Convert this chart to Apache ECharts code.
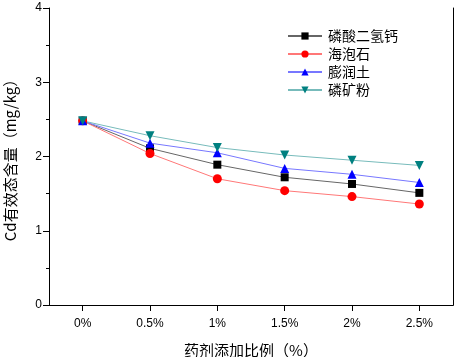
<!DOCTYPE html>
<html>
<head>
<meta charset="utf-8">
<script src="https://cdn.jsdelivr.net/npm/echarts@6/dist/echarts.min.js"></script>
<style>
  html, body { margin: 0; padding: 0; background: #fff; }
  #chart { width: 457px; height: 357px; }
</style>
</head>
<body>
<div id="chart"></div>
<script>
  var categories = ['0%', '0.5%', '1%', '1.5%', '2%', '2.5%']
  var calciumPhosphate = [2.48, 2.11, 1.89, 1.72, 1.63, 1.51]
  var sepiolite = [2.48, 2.04, 1.70, 1.54, 1.46, 1.36]
  var bentonite = [2.48, 2.18, 2.05, 1.84, 1.76, 1.65]
  var phosphateRock = [2.48, 2.28, 2.12, 2.02, 1.95, 1.88]

  var chart = echarts.init(document.getElementById('chart'))

  function makeSeries (name, data, symbol, color, lineColor, size) {
    return {
      name: name,
      type: 'line',
      data: data,
      symbol: symbol,
      symbolSize: size,
      itemStyle: { color: color },
      lineStyle: { color: lineColor, width: 1 }
    }
  }

  var frameAxis = {
    axisLine: { show: true, lineStyle: { color: '#000', width: 1 } },
    axisTick: { show: false },
    axisLabel: { show: false },
    splitLine: { show: false }
  }

  var options = {
    animation: false,
    grid: {
      left: 49,
      right: 4,
      top: 8,
      bottom: 52,
      containLabel: false,
      outerBoundsMode: 'none'
    },
    legend: {
      left: 282,
      top: 24,
      orient: 'vertical',
      itemGap: 4,
      itemWidth: 34,
      itemHeight: 9,
      textStyle: { fontFamily: 'Noto Sans CJK SC', fontSize: 14, color: '#000', padding: [0, 0, 0, 1] },
      data: ['磷酸二氢钙', '海泡石', '膨润土', '磷矿粉']
    },
    xAxis: [{
      type: 'category',
      data: categories,
      boundaryGap: true,
      name: '药剂添加比例（%）',
      nameLocation: 'middle',
      nameGap: 38,
      nameTextStyle: { fontFamily: 'Noto Sans CJK SC', fontSize: 15, color: '#000' },
      axisLine: { show: true, lineStyle: { color: '#000', width: 1 } },
      axisTick: { show: true, alignWithLabel: true, inside: false, length: 6, lineStyle: { color: '#000', width: 1 } },
      axisLabel: { fontFamily: 'Liberation Sans', fontSize: 12, color: '#000', margin: 13 }
    }, Object.assign({ type: 'category', data: categories, position: 'top' }, frameAxis)],
    yAxis: [{
      type: 'value',
      min: 0,
      max: 4,
      interval: 1,
      name: 'Cd有效态含量（mg/kg）',
      nameLocation: 'middle',
      nameGap: 31,
      nameTextStyle: { fontFamily: 'Noto Sans CJK SC', fontSize: 15, color: '#000' },
      axisLine: { show: true, lineStyle: { color: '#000', width: 1 } },
      axisTick: { show: true, inside: false, length: 6, lineStyle: { color: '#000', width: 1 } },
      minorTick: { show: true, splitNumber: 2, length: 3, lineStyle: { color: '#000', width: 1 } },
      splitLine: { show: false },
      axisLabel: { fontFamily: 'Liberation Sans', fontSize: 12, color: '#000', margin: 7 }
    }, Object.assign({ type: 'value', min: 0, max: 4, position: 'right' }, frameAxis)],
    series: [
      makeSeries('磷酸二氢钙', calciumPhosphate, 'rect', '#000000', '#666666', 8),
      makeSeries('海泡石', sepiolite, 'circle', '#ff0000', '#ff7777', 9),
      makeSeries('膨润土', bentonite, 'triangle', '#0000ff', '#7777ff', 9),
      makeSeries('磷矿粉', phosphateRock, 'path://M0,0 L10,0 L5,9 Z', '#008080', '#77bbbb', 9)
    ]
  }
  chart.setOption(options)
</script>
</body>
</html>
